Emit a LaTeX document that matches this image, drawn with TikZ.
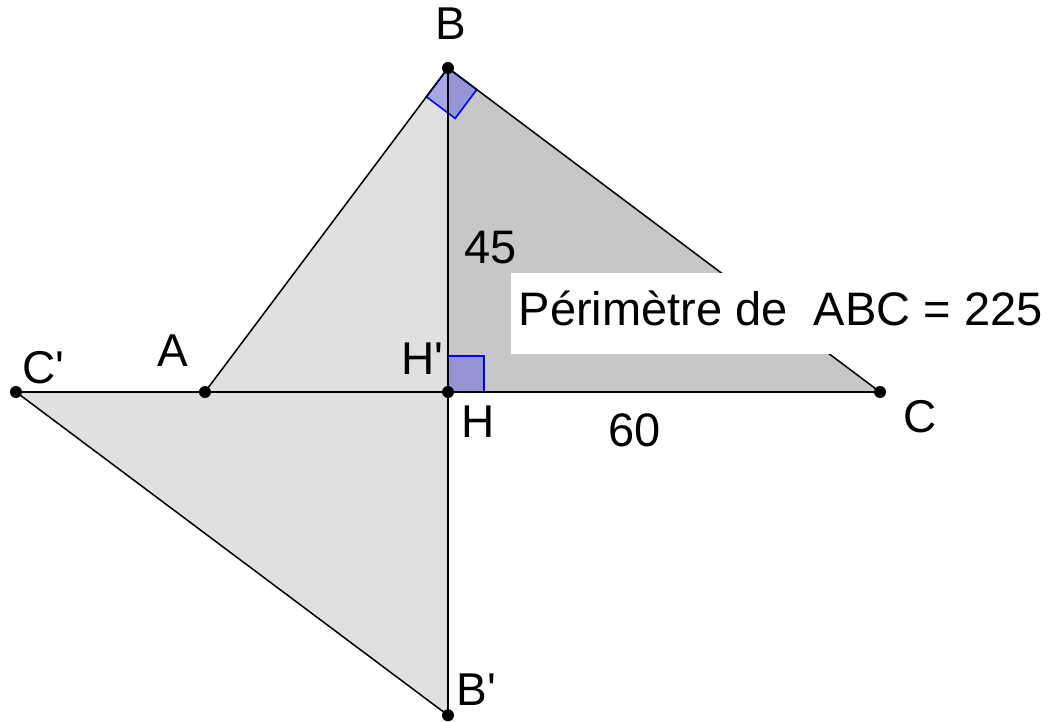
\documentclass[tikz,border=0pt]{standalone}
\usepackage{fontspec}
\setmainfont{Liberation Sans}[Ligatures=TeXOff]
\begin{document}
\begin{tikzpicture}[x=7.2pt,y=7.2pt,
  seg/.style={draw=black,line width=1.5pt},
  lightface/.style={fill=black!12},
  darkface/.style={fill=black!22},
  rightmark/.style={draw=blue,line width=1.6pt,fill=blue,fill opacity=0.25},
  ptdot/.style={circle,fill=black,inner sep=0pt,minimum size=12pt},
  plabel/.style={inner sep=0pt,anchor=base west,font=\fontsize{46}{52}\selectfont},
  numlabel/.style={inner sep=0pt,anchor=base west,font=\fontsize{47}{54}\selectfont},
  infobox/.style={fill=white,draw=none}]
\useasboundingbox (-62.222,-45.833) rectangle (83.611,54.444);
% points
\coordinate (H) at (0,0);
\coordinate (B) at (0,45);
\coordinate (C) at (60,0);
\coordinate (A) at (-33.75,0);
\coordinate (Cp) at (-60,0);
\coordinate (Bp) at (0,-44.9);
% faces
\path[lightface] (A) -- (B) -- (H) -- cycle;
\path[darkface] (B) -- (C) -- (H) -- cycle;
\path[lightface] (Cp) -- (H) -- (Bp) -- cycle;
% right angle markers
\draw[rightmark] (H) -- ++(5,0) -- ++(0,5) -- ++(-5,0) -- cycle;
\draw[rightmark] (B) -- ++(-3,-4) -- ++(4,-3) -- ++(3,4) -- cycle;
% segments
\draw[seg] (A) -- (B) -- (C);
\draw[seg] (Cp) -- (C);
\draw[seg] (B) -- (Bp);
\draw[seg] (Cp) -- (Bp);
% info box
\path[infobox] (8.75,5.28) rectangle (83.611,16.53);
\node[numlabel] (perim) at (9.8,9.3) {Périmètre de \ ABC = 225};
% dots
\foreach \p in {H,B,C,A,Cp,Bp} \node[ptdot] (dot\p) at (\p) {};
% labels
\node[plabel] (lB) at (-1.75,49.0) {B};
\node[plabel] (lA) at (-40.4,3.5) {A};
\node[plabel] (lCp) at (-59.1,1.25) {C'};
\node[plabel] (lHp) at (-6.5,2.5) {H'};
\node[plabel] (lH) at (1.9,-6.25) {H};
\node[plabel] (lC) at (63.3,-5.6) {C};
\node[numlabel] (l45) at (2.3,17.9) {45};
\node[numlabel] (l60) at (22.3,-7.6) {60};
\node[plabel] (lBp) at (1.2,-43.6) {B'};
\end{tikzpicture}
\end{document}
